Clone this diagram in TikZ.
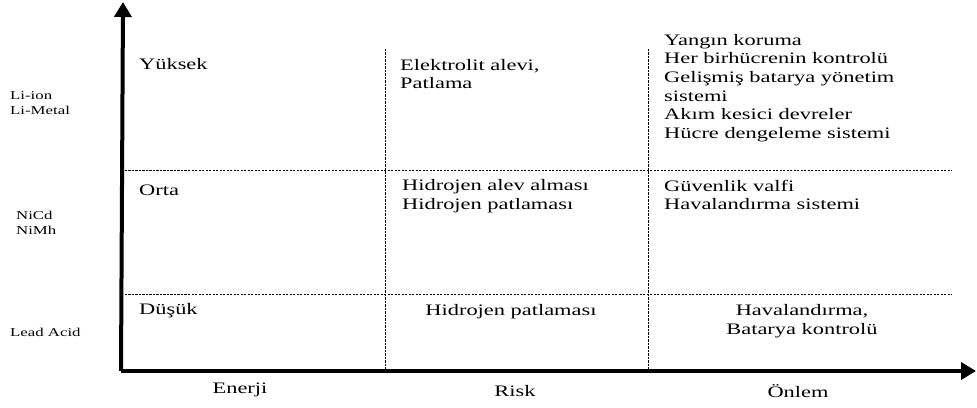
\documentclass[tikz,border=0pt]{standalone}
\usepackage{fontspec}
\setmainfont{Liberation Serif}[FakeStretch=1.4]
\usepackage{tikz}
\usetikzlibrary{arrows.meta}
\usetikzlibrary{positioning}

\begin{document}
\begin{tikzpicture}[x=1pt, y=1pt,
        axis/.style={line width=4pt, -{Triangle[length=15pt, width=17pt]}},
        grid/.style={line width=0.6pt, dash pattern=on 2.2pt off 1.3pt},
        level/.style={anchor=west, inner sep=0pt, font=\fontsize{16}{18.7}\selectfont},
        cell/.style={anchor=west, align=left, inner sep=0pt, font=\fontsize{16}{18.7}\selectfont},
        chem/.style={anchor=west, align=left, inner sep=0pt, font=\fontsize{12}{15}\selectfont},
        axlabel/.style={inner sep=0pt, font=\fontsize{16}{18.7}\selectfont}
      ]
        \useasboundingbox (-123, -36) rectangle (854, 371);

        \coordinate (origin) at (0, 0);
        \coordinate (ytip)   at (0, 369);
        \coordinate (xtip)   at (853, 0);

        % grid
        \draw[grid] (2, 201) -- (829, 201);
        \draw[grid] (2, 77)  -- (829, 77);
        \draw[grid] (262, 322) -- (262, 0);
        \draw[grid] (525, 322) -- (525, 0);

        % axes
        \draw[axis] (-2, 0) -- (ytip);
        \draw[axis] (-2, 0) -- (xtip);

        % levels
        \node[level]  (high)   at (16, 307)     {Yüksek};
        \node[level]  (mid)    at (16, 181)     {Orta};
        \node[level]  (low)    at (16, 60)      {Düşük};

        \node[chem]   (liion)  at (-113, 268)   {Li-ion\\Li-Metal};
        \node[chem]   (nicd)   at (-107, 148)   {NiCd\\NiMh};
        \node[chem]   (lead)   at (-113, 39)    {Lead Acid};

        % risks
        \node[cell]   (riskhigh) at (277, 297)  {Elektrolit alevi,\\Patlama};
        \node[cell]   (riskmid)  at (279, 175)  {Hidrojen alev alması\\Hidrojen patlaması};
        \node[axlabel] (risklow) at (388, 59)   {Hidrojen patlaması};

        % measures
        \node[cell]   (acthigh) at (541, 283)   {Yangın koruma\\Her birhücrenin kontrolü\\Gelişmiş batarya yönetim\\sistemi\\Akım kesici devreler\\Hücre dengeleme sistemi};
        \node[cell]   (actmid)  at (541, 176)   {Güvenlik valfi\\Havalandırma sistemi};
        \node[axlabel, align=center] (actlow) at (679, 50) {Havalandırma,\\Batarya kontrolü};

        % axis labels
        \node[axlabel] (energy)  at (117, -19)  {Enerji};
        \node[axlabel] (risk)    at (392, -20)  {Risk};
        \node[axlabel] (measure) at (675, -20)  {Önlem};
      \end{tikzpicture}
\end{document}
